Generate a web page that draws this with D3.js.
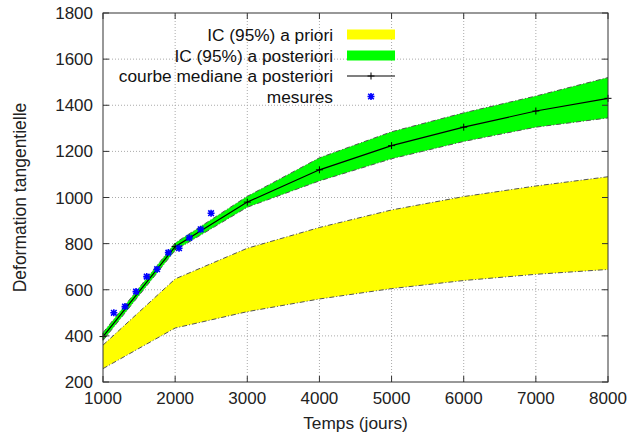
<!DOCTYPE html>
<html>
<head>
<meta charset="utf-8">
<script src="https://cdn.jsdelivr.net/npm/d3@7"></script>
<style>
  body { margin: 0; background: #fff; }
  svg { font-family: "Liberation Sans", Arial, sans-serif; }
</style>
</head>
<body>
<svg id="chart" width="629" height="441"></svg>
<script>
// temps (jours) of the computed curves
const temps = [1000, 2000, 3000, 4000, 5000, 6000, 7000, 8000];
// IC 95% a priori
const prioriLow = [258, 434, 505, 560, 605, 640, 667, 688];
const prioriHigh = [360, 647, 780, 870, 946, 1004, 1050, 1090];
// IC 95% a posteriori + median
const postLow = [380, 771, 958, 1072, 1168, 1243, 1305, 1345];
const postHigh = [414, 803, 1005, 1172, 1285, 1367, 1440, 1520];
const postMed = [397, 787, 980, 1120, 1225, 1305, 1375, 1430];
// mesures
const mesT = [1150, 1305, 1458, 1606, 1750, 1906, 2054, 2197, 2354, 2498];
const mesV = [500, 527, 592, 657, 689, 761, 780, 825, 862, 932];

const xTicks = [1000, 2000, 3000, 4000, 5000, 6000, 7000, 8000];
const yTicks = [200, 400, 600, 800, 1000, 1200, 1400, 1600, 1800];

const legendLabels = ["IC (95%) a priori", "IC (95%) a posteriori", "courbe mediane a posteriori", "mesures"];

const W = 629, H = 441;
const m = {left: 103, right: 21, top: 13, bottom: 59};

const svg = d3.select('#chart');

const x = d3.scaleLinear().domain([1000, 8000]).range([m.left, W - m.right]);
const y = d3.scaleLinear().domain([200, 1800]).range([H - m.bottom, m.top]);

// grid
const grid = svg.append('g').attr('stroke', '#aaa').attr('stroke-dasharray', '1,2').attr('stroke-width', 1);
grid.selectAll('.gx').data(xTicks.slice(1, -1)).enter().append('line')
  .attr('x1', d => x(d)).attr('x2', d => x(d)).attr('y1', y(200)).attr('y2', y(1800));
grid.selectAll('.gy').data(yTicks.slice(1, -1)).enter().append('line')
  .attr('y1', d => y(d)).attr('y2', d => y(d)).attr('x1', x(1000)).attr('x2', x(8000));

const prioriData = temps.map((t, i) => ({t, lo: prioriLow[i], hi: prioriHigh[i]}));
const postData = temps.map((t, i) => ({t, lo: postLow[i], hi: postHigh[i], med: postMed[i]}));

const area = d3.area().x(d => x(d.t)).y0(d => y(d.lo)).y1(d => y(d.hi));
const lineLo = d3.line().x(d => x(d.t)).y(d => y(d.lo));
const lineHi = d3.line().x(d => x(d.t)).y(d => y(d.hi));

svg.append('path').datum(prioriData).attr('d', area).attr('fill', '#ffff00');
svg.append('path').datum(postData).attr('d', area).attr('fill', '#00ff00');

[prioriData, postData].forEach(data => {
  [lineLo, lineHi].forEach(l => {
    svg.append('path').datum(data).attr('d', l)
      .attr('fill', 'none').attr('stroke', '#555').attr('stroke-width', 1)
      .attr('stroke-dasharray', '5,2,1,2');
  });
});

// median curve
svg.append('path').datum(postData)
  .attr('d', d3.line().x(d => x(d.t)).y(d => y(d.med)))
  .attr('fill', 'none').attr('stroke', '#000').attr('stroke-width', 1.2);

function plus(g, cx, cy, s, color, w) {
  g.append('path').attr('d', `M${cx - s},${cy}H${cx + s}M${cx},${cy - s}V${cy + s}`)
    .attr('stroke', color).attr('stroke-width', w).attr('fill', 'none');
}
function star(g, cx, cy, s, color) {
  const d = s * 0.8;
  g.append('path')
    .attr('d', `M${cx - s},${cy}H${cx + s}M${cx},${cy - s}V${cy + s}M${cx - d},${cy - d}L${cx + d},${cy + d}M${cx - d},${cy + d}L${cx + d},${cy - d}`)
    .attr('stroke', color).attr('stroke-width', 1.6).attr('fill', 'none');
}

const marks = svg.append('g');
postData.forEach(d => plus(marks, x(d.t), y(d.med), 3.5, '#000', 1));

mesT.forEach((t, i) => star(marks, x(t), y(mesV[i]), 3.5, '#0000ff'));

// frame and ticks
svg.append('rect').attr('x', x(1000)).attr('y', y(1800))
  .attr('width', x(8000) - x(1000)).attr('height', y(200) - y(1800))
  .attr('fill', 'none').attr('stroke', '#333').attr('stroke-width', 1);

const ticks = svg.append('g').attr('stroke', '#333').attr('stroke-width', 1);
xTicks.forEach(t => {
  ticks.append('line').attr('x1', x(t)).attr('x2', x(t)).attr('y1', y(200)).attr('y2', y(200) - 6);
  ticks.append('line').attr('x1', x(t)).attr('x2', x(t)).attr('y1', y(1800)).attr('y2', y(1800) + 6);
});
yTicks.forEach(v => {
  ticks.append('line').attr('y1', y(v)).attr('y2', y(v)).attr('x1', x(1000)).attr('x2', x(1000) + 6);
  ticks.append('line').attr('y1', y(v)).attr('y2', y(v)).attr('x1', x(8000)).attr('x2', x(8000) - 6);
});

svg.append('g').selectAll('text').data(xTicks).enter().append('text')
  .attr('x', d => x(d)).attr('y', y(200) + 22).attr('text-anchor', 'middle')
  .attr('font-size', 17).attr('fill', '#222').text(d => d);
svg.append('g').selectAll('text').data(yTicks).enter().append('text')
  .attr('x', x(1000) - 10).attr('y', d => y(d) + 6).attr('text-anchor', 'end')
  .attr('font-size', 17).attr('fill', '#222').text(d => d);

svg.append('text').attr('x', (x(1000) + x(8000)) / 2).attr('y', 429)
  .attr('text-anchor', 'middle').attr('font-size', 17.3).attr('fill', '#222').text('Temps (jours)');
svg.append('text').attr('transform', `translate(26,${(y(200) + y(1800)) / 2}) rotate(-90)`)
  .attr('text-anchor', 'middle').attr('font-size', 17.5).attr('fill', '#222').text('Deformation tangentielle');

// legend
const leg = svg.append('g');
const rowY = [34.5, 55.5, 76, 96.5];
legendLabels.forEach((lab, i) => {
  leg.append('text').attr('x', 333).attr('y', rowY[i] + 6).attr('text-anchor', 'end')
    .attr('font-size', 17.3).attr('fill', '#111').text(lab);
});
leg.append('rect').attr('x', 347).attr('y', rowY[0] - 5).attr('width', 48).attr('height', 10).attr('fill', '#ffff00');
leg.append('rect').attr('x', 347).attr('y', rowY[1] - 5).attr('width', 48).attr('height', 10).attr('fill', '#00ff00');
leg.append('line').attr('x1', 347).attr('x2', 395).attr('y1', rowY[2]).attr('y2', rowY[2])
  .attr('stroke', '#000').attr('stroke-width', 1.2);
plus(leg, 371, rowY[2], 3.5, '#000', 1);
star(leg, 371, rowY[3], 3.5, '#0000ff');
</script>
</body>
</html>
